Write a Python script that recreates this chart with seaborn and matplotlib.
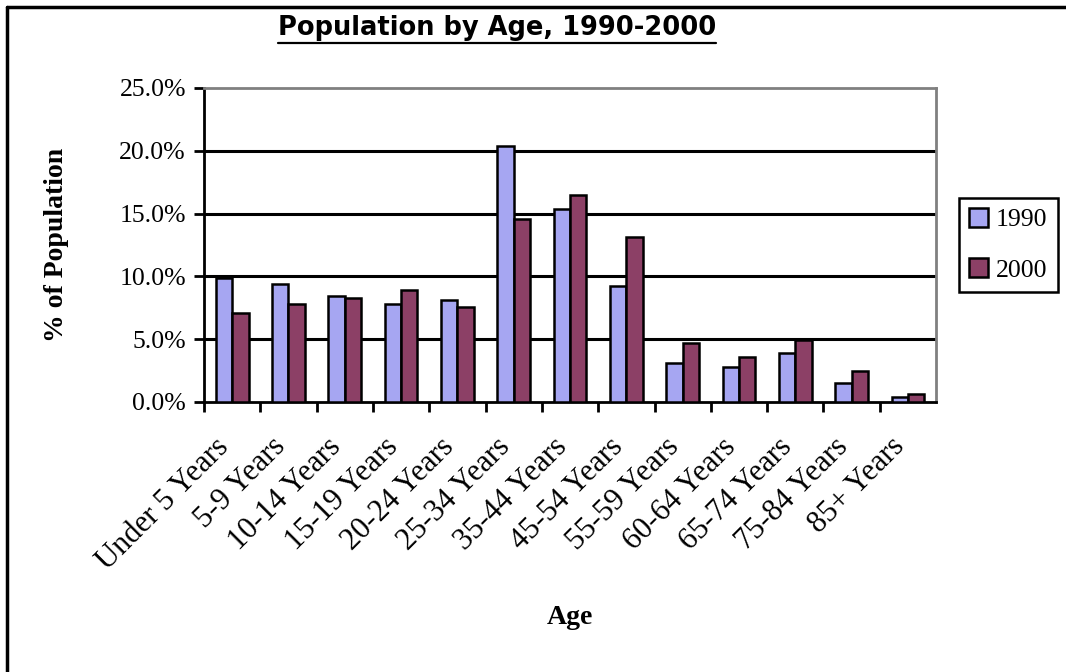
import matplotlib
matplotlib.use("Agg")
import matplotlib.pyplot as plt
import matplotlib.transforms as mtransforms
from matplotlib.lines import Line2D
from matplotlib.ticker import FuncFormatter, FixedLocator
import numpy as np
import pandas as pd
import seaborn as sns

age_groups = ["Under 5 Years", "5-9 Years", "10-14 Years", "15-19 Years",
              "20-24 Years", "25-34 Years", "35-44 Years", "45-54 Years",
              "55-59 Years", "60-64 Years", "65-74 Years", "75-84 Years",
              "85+ Years"]
pop_1990 = [9.9, 9.4, 8.4, 7.8, 8.1, 20.4, 15.4, 9.2, 3.1, 2.8, 3.9, 1.5, 0.4]
pop_2000 = [7.1, 7.8, 8.3, 8.9, 7.6, 14.6, 16.5, 13.1, 4.7, 3.6, 4.9, 2.5, 0.6]
years = ["1990", "2000"]
colors = ["#9999FF", "#993366"]

df = pd.DataFrame({
    "Age": age_groups * 2,
    "Pct": pop_1990 + pop_2000,
    "Year": [years[0]] * len(age_groups) + [years[1]] * len(age_groups),
})

sns.set_style("white")
plt.rcParams['font.family'] = ['Liberation Serif', 'DejaVu Serif']
for k in ["text.color", "axes.labelcolor", "xtick.color", "ytick.color"]:
    plt.rcParams[k] = "black"

fig = plt.figure(figsize=(10.66, 6.72), dpi=100)
ax = fig.add_axes([0.1914, 0.4018, 0.6867, 0.4673])

sns.barplot(data=df, x="Age", y="Pct", hue="Year", palette=colors,
            width=0.58, edgecolor="black", linewidth=1.8, ax=ax, zorder=3)

ax.set_ylim(0, 25)
ax.set_xlim(-0.5, len(age_groups) - 0.5)
ax.yaxis.set_major_locator(FixedLocator([0, 5, 10, 15, 20, 25]))
ax.yaxis.set_major_formatter(FuncFormatter(lambda v, p: f"{v:.1f}%"))
for g in [5, 10, 15, 20]:
    ax.axhline(g, color="black", lw=2.2, zorder=1)

# tick marks between groups, labels at the centres
ax.set_xticks(np.arange(len(age_groups)) - 0.5, minor=False)
ax.set_xticklabels([])
ax.set_xticks(np.arange(len(age_groups)), minor=True)
ax.set_xticklabels(age_groups, minor=True, rotation=45, ha="right",
                   rotation_mode="anchor", fontsize=22)
ax.tick_params(axis="x", which="major", length=7, width=2, direction="out", bottom=True)
ax.tick_params(axis="x", which="minor", length=0, pad=16)
ax.tick_params(axis="y", length=7, width=2, direction="out", left=True,
               labelsize=18.5, pad=6)
shift = mtransforms.ScaledTranslation(-18 / 100, -8 / 100, fig.dpi_scale_trans)
for lbl in ax.get_xticklabels(minor=True):
    lbl.set_transform(lbl.get_transform() + shift)

for s in ["left", "bottom"]:
    ax.spines[s].set_color("black")
    ax.spines[s].set_linewidth(2)
for s in ["top", "right"]:
    ax.spines[s].set_color("#808080")
    ax.spines[s].set_linewidth(2)

ax.set_xlabel("Age", fontsize=20, fontweight="bold")
ax.set_ylabel("% of Population", fontsize=20, fontweight="bold")
ax.xaxis.set_label_coords(0.5, -0.647)
ax.yaxis.set_label_coords(-0.184, 0.5)

leg = ax.legend(loc="center left", bbox_to_anchor=(1.031, 0.5), borderaxespad=0,
                fontsize=18.5, frameon=True, fancybox=False, edgecolor="black",
                framealpha=1, handlelength=0.75, handleheight=0.75,
                handletextpad=0.3, labelspacing=1.05, borderpad=0.4)
leg.get_frame().set_linewidth(1.8)
leg.set_title(None)

title = fig.text(0.466, 0.958, "Population by Age, 1990-2000",
                 family=["DejaVu Sans"], color="black",
                 fontsize=18.5, fontweight="bold", ha="center", va="center")

# outer frame (top and left edges only visible)
fig.add_artist(Line2D([7 / 1066, 1], [1 - 7 / 672] * 2, color="black", lw=2.5,
                      transform=fig.transFigure))
fig.add_artist(Line2D([7 / 1066] * 2, [0, 1 - 7 / 672], color="black", lw=2.5,
                      transform=fig.transFigure))

# underline the title
fig.canvas.draw()
bb = title.get_window_extent().transformed(fig.transFigure.inverted())
fig.add_artist(Line2D([bb.x0, bb.x1], [bb.y0 - 0.002] * 2, color="black", lw=1.6,
                      transform=fig.transFigure))

fig.savefig("out.png", dpi=100)
